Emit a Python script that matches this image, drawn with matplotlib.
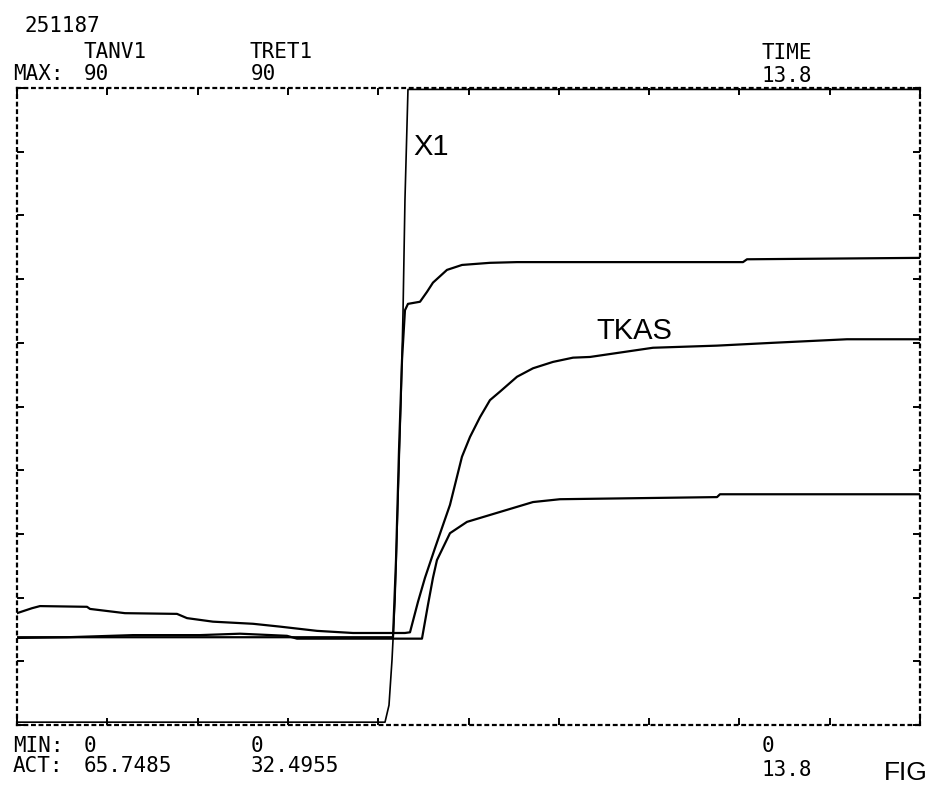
import matplotlib.pyplot as plt
from matplotlib.ticker import MultipleLocator

# time axis 0..13.8, value axis 0..90 (recorder printout)
T_MAX = 13.8
V_MAX = 90

x1_t = [0, 5.624, 5.685, 5.731, 5.777, 5.822, 5.868, 5.899, 5.929, 5.975, 13.8]
x1_v = [0.4, 0.4, 2.8, 9.2, 17.7, 31.8, 45.9, 58.2, 74.2, 89.8, 89.8]

upper_t = [0, 5.746, 5.792, 5.838, 5.884, 5.929, 5.975, 6.159, 6.266, 6.357,
           6.571, 6.801, 7.228, 7.641, 11.095, 11.156, 13.8]
upper_v = [12.4, 12.4, 23.3, 38.9, 51.6, 58.6, 59.5, 59.8, 61.2, 62.5,
           64.3, 65.0, 65.3, 65.4, 65.4, 65.8, 66.0]

tkas_t = [0, 0.229, 0.351, 1.070, 1.116, 1.650, 2.445, 2.598, 2.995, 3.607,
          4.019, 4.585, 5.135, 5.929, 6.006, 6.128, 6.235, 6.388, 6.617, 6.800,
          6.923, 7.076, 7.228, 7.381, 7.641, 7.886, 8.191, 8.497, 8.757, 9.719,
          10.698, 11.553, 12.684, 13.8]
tkas_v = [15.8, 16.5, 16.8, 16.7, 16.4, 15.8, 15.7, 15.1, 14.6, 14.3,
          13.9, 13.3, 13.0, 13.0, 13.1, 17.4, 20.8, 25.0, 31.1, 37.9,
          40.7, 43.5, 45.9, 47.1, 49.2, 50.4, 51.3, 51.9, 52.0, 53.3,
          53.6, 54.0, 54.5, 54.5]

lower_t = [0, 0.764, 1.773, 2.797, 3.408, 4.126, 4.279, 6.189, 6.281, 6.357,
           6.418, 6.617, 6.877, 7.381, 7.886, 8.298, 10.698, 10.743, 13.8]
lower_v = [12.3, 12.4, 12.7, 12.7, 12.9, 12.6, 12.2, 12.2, 17.0, 20.8,
           23.3, 27.1, 28.7, 30.1, 31.5, 31.9, 32.2, 32.6, 32.6]

fig = plt.figure(figsize=(9.35, 7.89), dpi=100)
ax = fig.add_axes([17/935, 1 - 725/789, 903/935, 637/789])

ax.plot(x1_t, x1_v, color='black', lw=1.2)
ax.plot(upper_t, upper_v, color='black', lw=1.6)
ax.plot(tkas_t, tkas_v, color='black', lw=1.6)
ax.plot(lower_t, lower_v, color='black', lw=1.6)

ax.set_xlim(0, T_MAX)
ax.set_ylim(0, V_MAX)
ax.xaxis.set_major_locator(MultipleLocator(T_MAX / 10))
ax.yaxis.set_major_locator(MultipleLocator(V_MAX / 10))
ax.tick_params(direction='in', length=5, width=1.4, top=True, right=True,
               labelbottom=False, labelleft=False)
for s in ax.spines.values():
    s.set_linestyle((0, (1.2, 2.2)))
    s.set_linewidth(1.6)

ax.text(6.05, 80.5, 'X1', fontsize=21, family='Liberation Sans')
ax.text(8.85, 54.6, 'TKAS', fontsize=21, family='Liberation Sans')

mono = dict(family='DejaVu Sans Mono', fontsize=15, color='black')
def px(x, y, s, **kw):
    fig.text(x / 935, 1 - y / 789, s, va='baseline', **{**mono, **kw})

px(24, 32, '251187')
px(84, 58, 'TANV1')
px(250, 58, 'TRET1')
px(762, 59, 'TIME')
px(13, 80, 'MAX:')
px(84, 80, '90')
px(251, 80, '90')
px(762, 82, '13.8')
px(13, 752, 'MIN:')
px(84, 752, '0')
px(251, 752, '0')
px(762, 752, '0')
px(13, 772, 'ACT:')
px(84, 772, '65.7485')
px(251, 772, '32.4955')
px(762, 776, '13.8')
fig.text(884 / 935, 1 - 780 / 789, 'FIG', fontsize=19, family='Liberation Sans',
         va='baseline')

fig.savefig('out.png', dpi=100)
